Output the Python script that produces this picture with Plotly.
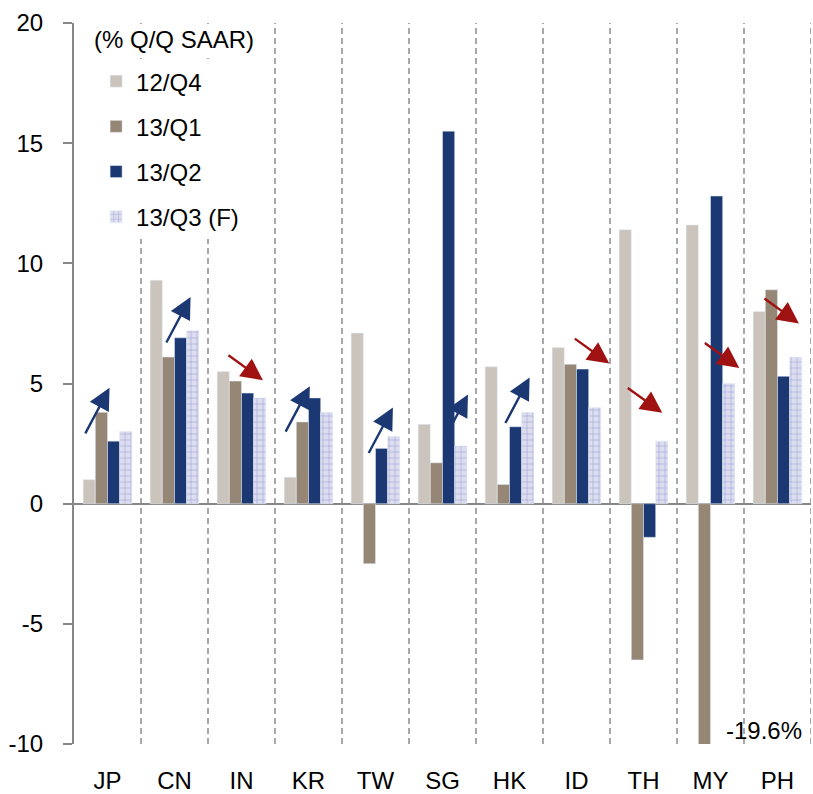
import plotly.graph_objects as go

# Quarterly real GDP growth, % Q/Q SAAR
countries = ["JP", "CN", "IN", "KR", "TW", "SG", "HK", "ID", "TH", "MY", "PH"]
q4_12 = [1.0, 9.3, 5.5, 1.1, 7.1, 3.3, 5.7, 6.5, 11.4, 11.6, 8.0]
q1_13 = [3.8, 6.1, 5.1, 3.4, -2.5, 1.7, 0.8, 5.8, -6.5, -19.6, 8.9]
q2_13 = [2.6, 6.9, 4.6, 4.4, 2.3, 15.5, 3.2, 5.6, -1.4, 12.8, 5.3]
q3_13f = [3.0, 7.2, 4.4, 3.8, 2.8, 2.4, 3.8, 4.0, 2.6, 5.0, 6.1]
# Direction of growth momentum into 13/Q3
trend = ["up", "up", "down", "up", "up", "up", "up", "down", "down", "down", "down"]
series_names = ["12/Q4", "13/Q1", "13/Q2", "13/Q3 (F)"]
y_ticks = [-10, -5, 0, 5, 10, 15, 20]
y_tick_text = ["-10", "-5", "0", "5", "10", "15", "20"]
off_scale_label = "-19.6%"

FONT = "Liberation Sans, Arial, sans-serif"
FS = 24
GREY = "#878787"
NAVY = "#1b3873"
RED = "#a01212"

fig = go.Figure()
fig.add_trace(go.Bar(x=countries, y=q4_12, name=series_names[0],
                     marker_color="#cbc4bd", legendgroup="a"))
fig.add_trace(go.Bar(x=countries, y=q1_13, name=series_names[1],
                     marker_color="#968676", legendgroup="b"))
fig.add_trace(go.Bar(x=countries, y=q2_13, name=series_names[2],
                     marker_color=NAVY, legendgroup="c"))
fig.add_trace(go.Bar(x=countries, y=q3_13f, name=series_names[3],
                     marker=dict(color="#dcdef0",
                                 pattern=dict(shape="+", size=6, solidity=0.2,
                                              fgcolor="#a3a7d6", bgcolor="#dcdef0",
                                              fillmode="replace")),
                     legendgroup="d"))

# dashed separators between countries
shapes = []
for i in range(len(countries)):
    shapes.append(dict(type="line", xref="x", yref="y",
                       x0=i + 0.5, x1=i + 0.5, y0=y_ticks[0], y1=y_ticks[-1],
                       line=dict(color="#8c8c8c", width=1.5, dash="6px,4px"),
                       layer="below"))

# momentum arrows: tip position (category index, value) for each country
arrow_tips = [(0.03, 4.82), (1.24, 8.60), (2.32, 5.14), (3.02, 4.89),
              (4.26, 4.00), (5.38, 4.54), (6.30, 5.25), (7.49, 5.83),
              (8.28, 3.78), (9.43, 5.65), (10.32, 7.50)]
annotations = []
for (tx, ty), d in zip(arrow_tips, trend):
    if d == "up":
        col, ax, ay = NAVY, -25, 47
    else:
        col, ax, ay = RED, -36, -26
    annotations.append(dict(x=tx, y=ty, xref="x", yref="y", ax=ax, ay=ay,
                            axref="pixel", ayref="pixel", text="",
                            showarrow=True, arrowhead=2, arrowsize=1.8,
                            arrowwidth=2.4, arrowcolor=col, standoff=0))

annotations.append(dict(x=9.2, y=-9.45, xref="x", yref="y", text=off_scale_label,
                        showarrow=False, xanchor="left", yanchor="middle",
                        font=dict(family=FONT, size=FS, color="#000")))
annotations.append(dict(x=0.024, y=0.977, xref="paper", yref="paper",
                        text="(% Q/Q SAAR)", showarrow=False,
                        xanchor="left", yanchor="middle", bgcolor="white",
                        font=dict(family=FONT, size=FS, color="#000")))

fig.update_layout(
    width=813, height=794,
    margin=dict(l=74, r=2, t=23, b=50),
    paper_bgcolor="white", plot_bgcolor="white",
    font=dict(family=FONT, size=FS, color="#000"),
    barmode="group", bargap=0.273, bargroupgap=0,
    showlegend=True,
    legend=dict(x=0.03, y=0.95, xanchor="left", yanchor="top",
                bgcolor="white", font=dict(family=FONT, size=FS),
                tracegroupgap=11, traceorder="grouped"),
    shapes=shapes, annotations=annotations,
)
fig.update_xaxes(type="category", range=[-0.5, len(countries) - 0.5],
                 showline=False, ticks="", showgrid=False, automargin=False,
                 ticklabelstandoff=20, tickfont=dict(family=FONT, size=FS))
fig.update_yaxes(range=[y_ticks[0], y_ticks[-1]], tickvals=y_ticks,
                 ticktext=y_tick_text, automargin=False,
                 showgrid=False, showline=True, linecolor=GREY, linewidth=2,
                 ticks="outside", ticklen=9, tickwidth=2, tickcolor=GREY,
                 zeroline=True, zerolinecolor=GREY, zerolinewidth=2,
                 ticklabelstandoff=15, tickfont=dict(family=FONT, size=FS))

fig.write_html("out.html")
